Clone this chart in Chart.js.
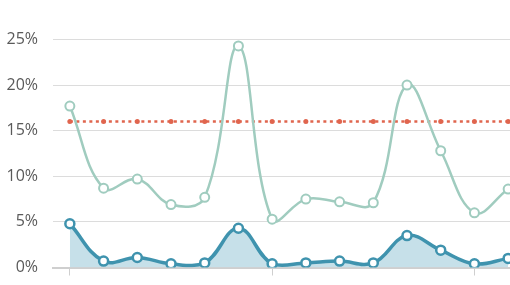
<!DOCTYPE html>
<html><head><meta charset="utf-8">
<script src="https://cdn.jsdelivr.net/npm/chart.js@4"></script>
<style>
html,body{margin:0;padding:0;background:#fff;overflow:hidden;}
#wrap{width:510px;height:285px;overflow:hidden;position:relative;}
canvas{position:absolute;left:0;top:0;}
</style></head><body>
<div id="wrap"><canvas id="c" width="527" height="285" style="width:527px;height:285px"></canvas></div>
<script>
const categories = ['1','2','3','4','5','6','7','8','9','10','11','12','13','14'];
const upperSeries = [17.7, 8.7, 9.7, 6.9, 7.7, 24.3, 5.3, 7.5, 7.2, 7.1, 20.0, 12.8, 6.0, 8.6];
const lowerSeries = [4.8, 0.7, 1.1, 0.4, 0.5, 4.3, 0.4, 0.5, 0.7, 0.5, 3.5, 1.9, 0.4, 1.0];
const targetSeries = [16, 16, 16, 16, 16, 16, 16, 16, 16, 16, 16, 16, 16, 16];
const yTicks = [0, 5, 10, 15, 20, 25];

new Chart(document.getElementById('c'), {
  type: 'line',
  data: {
    labels: categories,
    datasets: [
      { data: targetSeries, order: 3, borderColor: '#e0654e', backgroundColor: '#e0654e', borderWidth: 2.5, borderDash: [3, 3.5], tension: 0,
        pointRadius: 2.5, pointBorderWidth: 0, pointBackgroundColor: '#e0654e', fill: false },
      { data: upperSeries, order: 2, borderColor: '#a0ccbf', borderWidth: 2.5, tension: 0.4,
        pointRadius: 4.5, pointBorderWidth: 2, pointBackgroundColor: '#fff', pointBorderColor: '#a0ccbf', fill: false },
      { data: lowerSeries, order: 1, borderColor: '#3f93ae', backgroundColor: '#c6e0e9', borderWidth: 3.5, tension: 0.4,
        pointRadius: 4.5, pointBorderWidth: 2.5, pointBackgroundColor: '#fff', pointBorderColor: '#3f93ae', fill: 'origin' }
    ]
  },
  options: {
    responsive: false, maintainAspectRatio: false, animation: false,
    layout: { autoPadding: false, padding: { top: 39.5, right: 2, bottom: 0, left: 0 } },
    plugins: { legend: { display: false }, tooltip: { enabled: false } },
    scales: {
      x: {
        offset: true,
        afterFit: axis => { axis.height = 17.5; },
        grid: { drawOnChartArea: false, drawTicks: true, tickLength: 8,
          color: ctx => (ctx.index % 6 === 0 ? '#cfcfcf' : 'rgba(0,0,0,0)') },
        border: { display: true, color: '#cfcfcf', width: 2 },
        ticks: { autoSkip: false, callback: () => '', font: { size: 1 }, padding: 0 }
      },
      y: {
        min: yTicks[0], max: yTicks[yTicks.length - 1],
        afterBuildTicks: axis => { axis.ticks = yTicks.map(v => ({ value: v })); },
        afterFit: axis => { axis.width = 53; axis.paddingBottom = 0; axis.paddingTop = 0; },
        grid: { drawTicks: false, color: '#dcdcdc', lineWidth: 1 },
        border: { display: false },
        ticks: { padding: 15, color: '#5a5a5a', font: { family: '"Open Sans"', size: 16 }, callback: v => v + '%' }
      }
    }
  }
});
</script>
</body></html>
